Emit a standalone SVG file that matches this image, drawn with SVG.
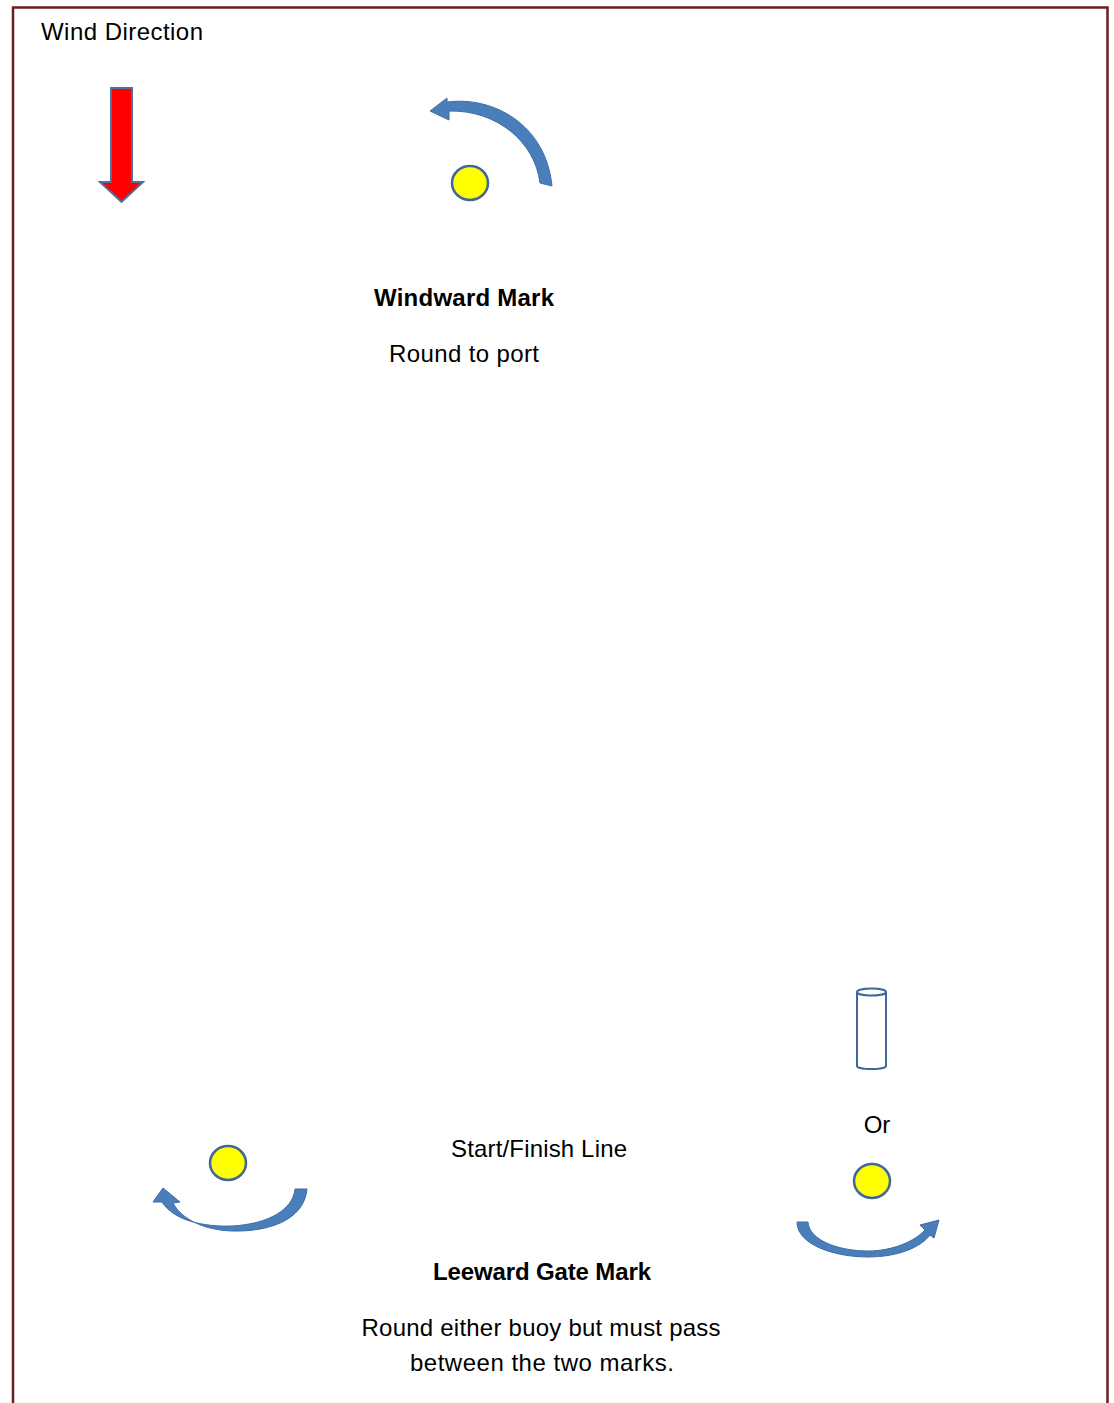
<svg xmlns="http://www.w3.org/2000/svg" width="1114" height="1403" viewBox="0 0 1114 1403">
<style>
text{font-family:"Liberation Sans",Arial,sans-serif;font-size:24px;fill:#000}
.b{font-weight:bold}
.buoy{fill:#ffff00;stroke:#41679a;stroke-width:2.5}
.carrow{fill:#4a7ebb;stroke:#3d6da6;stroke-width:1;stroke-linejoin:round}
</style>
<rect width="1114" height="1403" fill="#fff"/>
<g id="border" fill="none" stroke="#6b1f25">
<path d="M13,1403 V7.5 H1107.5 V1403" stroke-width="2.5"/>
</g>
<g id="wind">
<text x="41" y="40" textLength="162">Wind Direction</text>
<path d="M111,88 H132 V182 H143 L121.5,202 L100,182 H111 Z" fill="#ff0000" stroke="#4f6f9f" stroke-width="2"/>
</g>
<g id="windward-mark">
<ellipse class="buoy" cx="470" cy="183" rx="18" ry="17"/>
<text class="b" x="464" y="306" text-anchor="middle" textLength="180">Windward Mark</text>
<text x="464" y="362" text-anchor="middle" textLength="150">Round to port</text>
</g>
<g id="leeward-left">
<ellipse class="buoy" cx="228" cy="1163" rx="18" ry="17"/>
</g>
<g id="leeward-right">
<path d="M857,992 V1066 A14.5,3 0 0 0 886,1066 V992" fill="#fff" stroke="#41679a" stroke-width="2"/>
<ellipse cx="871.5" cy="992" rx="14.5" ry="3.5" fill="#fff" stroke="#41679a" stroke-width="2"/>
<text x="877" y="1133" text-anchor="middle">Or</text>
<ellipse class="buoy" cx="872" cy="1181" rx="18" ry="17"/>
</g>
<g id="labels">
<text x="539" y="1157" text-anchor="middle" textLength="176">Start/Finish Line</text>
<text class="b" x="542" y="1280" text-anchor="middle" textLength="218">Leeward Gate Mark</text>
<text x="541" y="1336" text-anchor="middle" textLength="359">Round either buoy but must pass</text>
<text x="542" y="1371" text-anchor="middle" textLength="264">between the two marks.</text>
</g>
<g id="connectors">
<path class="carrow" d="M447,102 C494,96 546,125 552,186 L540,183 C535,142 497,110 449,111 L449,120 L430,111 L447,98 Z"/>
<path class="carrow" d="M307,1189 C304,1222 265,1232 232,1231 C205,1230 182,1220 173,1203 L180,1202 L163,1188 L153,1202 L162,1202 C174,1221 205,1227 232,1226 C268,1224 293,1210 295,1189 Z"/>
<path class="carrow" d="M797,1222 C797,1245 835,1257 868,1257 C900,1257 922,1246 930,1235 L934,1238 L939,1220 L920,1225 L925,1230 C915,1241 893,1251 868,1251 C838,1251 809,1240 808,1222 Z"/>
</g>
</svg>
